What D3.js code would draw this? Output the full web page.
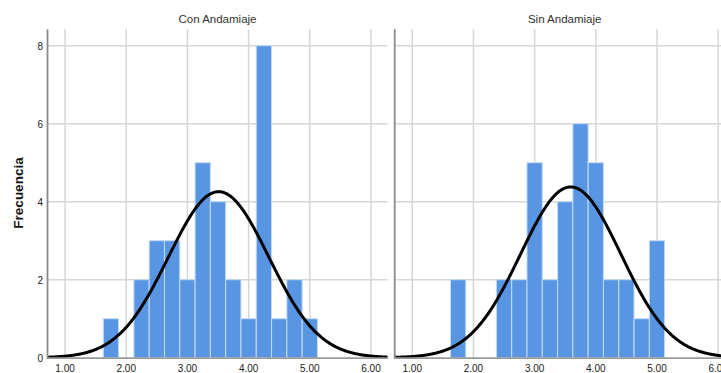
<!DOCTYPE html>
<html>
<head>
<meta charset="utf-8">
<script src="https://cdn.jsdelivr.net/npm/d3@7"></script>
<style>
  html, body { margin: 0; padding: 0; background: #fff; }
  svg { display: block; font-family: "Liberation Sans", Arial, sans-serif; }
</style>
</head>
<body>
<svg id="chart" width="721" height="373"></svg>
<script>
// Panel titles
const panels = ["Con Andamiaje", "Sin Andamiaje"];

// Bin centers (bin width 0.25) and frequencies per group
const binWidth = 0.25;
const conCenters = [1.75, 2.25, 2.5, 2.75, 3.0, 3.25, 3.5, 3.75, 4.0, 4.25, 4.5, 4.75, 5.0];
const conCounts  = [1,    2,    3,   3,    2,   5,    4,   2,    1,   8,    1,   2,    1];
const sinCenters = [1.75, 2.5, 2.75, 3.0, 3.25, 3.5, 3.75, 4.0, 4.25, 4.5, 4.75, 5.0];
const sinCounts  = [2,    2,   2,    5,   2,    4,   6,    5,   2,    2,   1,    3];

// Normal-curve parameters for each group: [mean, standard deviation, n]
const conNormal = [3.51, 0.82, 35];
const sinNormal = [3.59, 0.82, 36];

// Axis ticks
const xTicks = [1, 2, 3, 4, 5, 6];
const yTicks = [0, 2, 4, 6, 8];

const svg = d3.select("#chart");

const plotTop = 29.3;
const panelWidth = 340;
const panelLefts = [47.5, 394.7];
const xDomain = [0.713, 6.27];

const y = d3.scaleLinear().domain([0, 8.42]).range([357.7, plotTop]);

const groups = [
  { centers: conCenters, counts: conCounts, normal: conNormal },
  { centers: sinCenters, counts: sinCounts, normal: sinNormal }
];

groups.forEach((grp, i) => {
  const left = panelLefts[i];
  const x = d3.scaleLinear().domain(xDomain).range([left, left + panelWidth]);
  const g = svg.append("g");

  // gridlines
  g.selectAll("line.vgrid").data(xTicks).join("line")
    .attr("x1", d => x(d)).attr("x2", d => x(d))
    .attr("y1", plotTop).attr("y2", y(0))
    .attr("stroke", "#d6d6d6").attr("stroke-width", 1.5);
  g.selectAll("line.hgrid").data(yTicks.filter(d => d > 0)).join("line")
    .attr("x1", left).attr("x2", left + panelWidth)
    .attr("y1", d => y(d)).attr("y2", d => y(d))
    .attr("stroke", "#d6d6d6").attr("stroke-width", 1.5);

  // histogram bars
  const bins = grp.centers.map((c, k) => ({ c, n: grp.counts[k] }));
  g.selectAll("rect.bar").data(bins).join("rect")
    .attr("x", d => x(d.c - binWidth / 2))
    .attr("width", d => x(d.c + binWidth / 2) - x(d.c - binWidth / 2))
    .attr("y", d => y(d.n))
    .attr("height", d => y(0) - y(d.n))
    .attr("fill", "#5896e4")
    .attr("stroke", "#c6dbf5")
    .attr("stroke-width", 1);

  // fitted normal curve scaled to frequencies
  const [mu, sd, n] = grp.normal;
  const pdf = t => n * binWidth * Math.exp(-0.5 * ((t - mu) / sd) ** 2) / (sd * Math.sqrt(2 * Math.PI));
  const xs = d3.range(0, 401).map(k => xDomain[0] + (xDomain[1] - xDomain[0]) * k / 400);
  const line = d3.line().x(t => x(t)).y(t => y(pdf(t))).curve(d3.curveBasis);
  g.append("path").datum(xs)
    .attr("d", line)
    .attr("fill", "none")
    .attr("stroke", "#000")
    .attr("stroke-width", 3);

  // axis lines
  g.append("line")
    .attr("x1", left).attr("x2", left)
    .attr("y1", plotTop).attr("y2", y(0) + 1)
    .attr("stroke", "#8a8a8a").attr("stroke-width", 1.8);
  g.append("line")
    .attr("x1", left).attr("x2", left + panelWidth)
    .attr("y1", y(0) + 0.5).attr("y2", y(0) + 0.5)
    .attr("stroke", "#9a9a9a").attr("stroke-width", 1.8);

  // x tick labels
  g.selectAll("text.xt").data(xTicks).join("text")
    .attr("x", d => x(d)).attr("y", 372)
    .attr("text-anchor", "middle")
    .attr("font-size", 10).attr("fill", "#222")
    .text(d => d3.format(".2f")(d));

  // panel title
  g.append("text")
    .attr("x", left + panelWidth / 2).attr("y", 23)
    .attr("text-anchor", "middle")
    .attr("font-size", 11.5).attr("fill", "#333")
    .text(panels[i]);

  // y tick labels only on the first panel
  if (i === 0) {
    g.selectAll("text.yt").data(yTicks).join("text")
      .attr("x", 43).attr("y", d => y(d) + 4.3)
      .attr("text-anchor", "end")
      .attr("font-size", 10).attr("fill", "#222")
      .text(d => d);
  }
});

// y axis title
svg.append("text")
  .attr("transform", "translate(23,193) rotate(-90)")
  .attr("text-anchor", "middle")
  .attr("font-size", 13.5).attr("font-weight", "bold").attr("fill", "#111")
  .text("Frecuencia");
</script>
</body>
</html>
